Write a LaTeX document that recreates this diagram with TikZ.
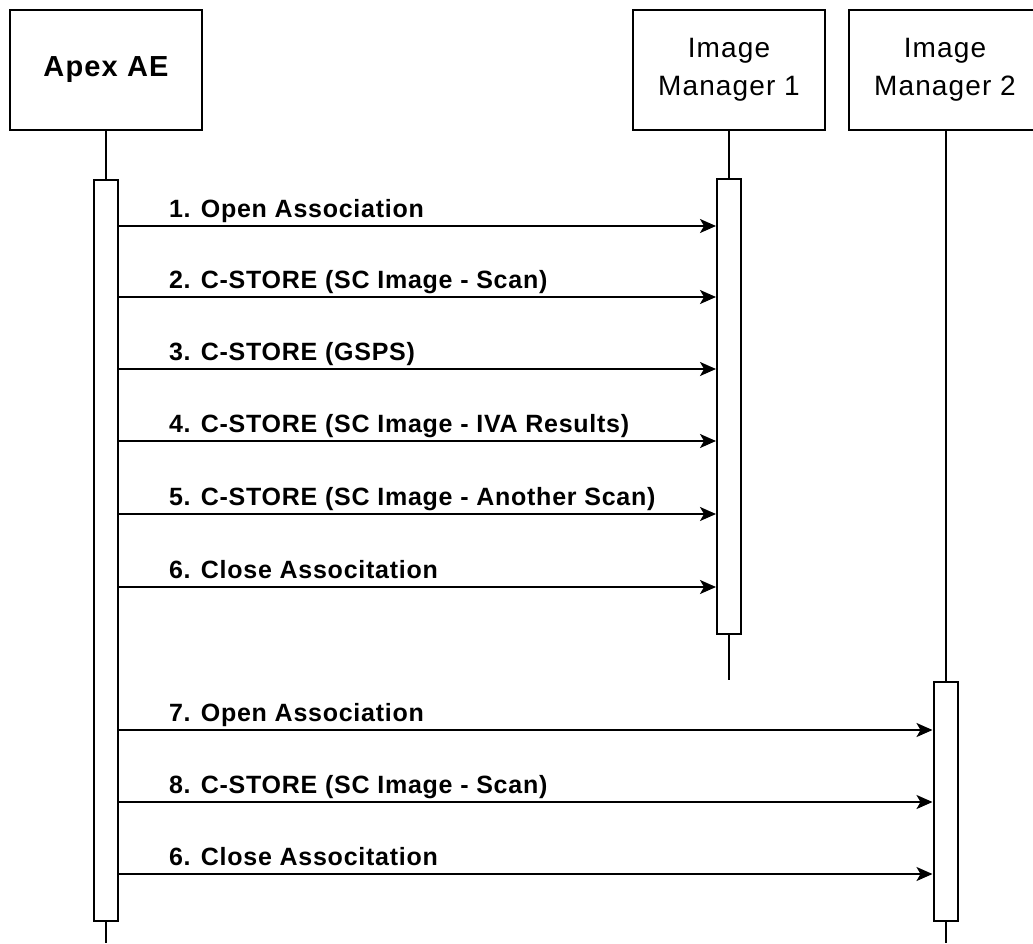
\documentclass[tikz,border=0pt]{standalone}
\usepackage{fontspec}
\setmainfont{Liberation Sans}
\newfontfamily\hdrfont[LetterSpace=4]{Liberation Sans}
\newfontfamily\lblfont[LetterSpace=3]{Liberation Sans}
\usetikzlibrary{arrows.meta}
\begin{document}
\begin{tikzpicture}[x=1pt,y=-1pt, line width=2pt,
  actor/.style={draw, line width=2pt, minimum width=192pt, minimum height=120pt, inner sep=0pt, align=center},
  actbox/.style={draw, line width=2pt, fill=white, inner sep=0pt, minimum width=24pt},
  life/.style={line width=2pt},
  msg/.style={line width=1.8pt, -{Stealth[length=16pt,width=14pt,inset=4pt]}},
  lbl/.style={anchor=base west, inner sep=0pt, font=\lblfont\bfseries\fontsize{25}{28}\selectfont}
]
\useasboundingbox (0,0) rectangle (1033,943);
\clip (0,0) rectangle (1033,943);
% actors
\node[actor, font=\hdrfont\bfseries\fontsize{29}{36}\selectfont] (apex) at (106,70) {Apex AE};
\node[actor, font=\hdrfont\fontsize{28}{38}\selectfont] (im1) at (729,70) {Image\\Manager 1};
\node[actor, font=\hdrfont\fontsize{28}{38}\selectfont] (im2) at (945,70) {Image\\Manager 2};
% activation bars
\node[actbox, minimum height=741pt] (actA) at (106,550.5) {};
\node[actbox, minimum height=455pt] (act1) at (729,406.5) {};
\node[actbox, minimum height=239pt] (act2) at (945.5,801.5) {};
% lifeline ends
\coordinate (endA) at (106,943);
\coordinate (end1) at (729,680);
\coordinate (end2) at (945.5,943);
\draw[life] (apex.south -| actA.north) -- (actA.north);
\draw[life] (actA.south) -- (endA);
\draw[life] (im1.south -| act1.north) -- (act1.north);
\draw[life] (act1.south) -- (end1);
\draw[life] (im2.south -| act2.north) -- (act2.north);
\draw[life] (act2.south) -- (end2);
% messages to IM1
\foreach \y/\t [count=\i] in {226/{1. Open Association},297/{2. C-STORE (SC Image - Scan)},369/{3. C-STORE (GSPS)},441/{4. C-STORE (SC Image - IVA Results)},514/{5. C-STORE (SC Image - Another Scan)},587/{6. Close Associtation}}{
  \draw[msg] (actA.east |- {0,\y}) -- (act1.west |- {0,\y});
  \node[lbl] (la\i) at (168,\y-9) {\t};
}
% messages to IM2
\foreach \y/\t [count=\i] in {730/{7. Open Association},802/{8. C-STORE (SC Image - Scan)},874/{6. Close Associtation}}{
  \draw[msg] (actA.east |- {0,\y}) -- (act2.west |- {0,\y});
  \node[lbl] (lb\i) at (168,\y-9) {\t};
}
\end{tikzpicture}
\end{document}
